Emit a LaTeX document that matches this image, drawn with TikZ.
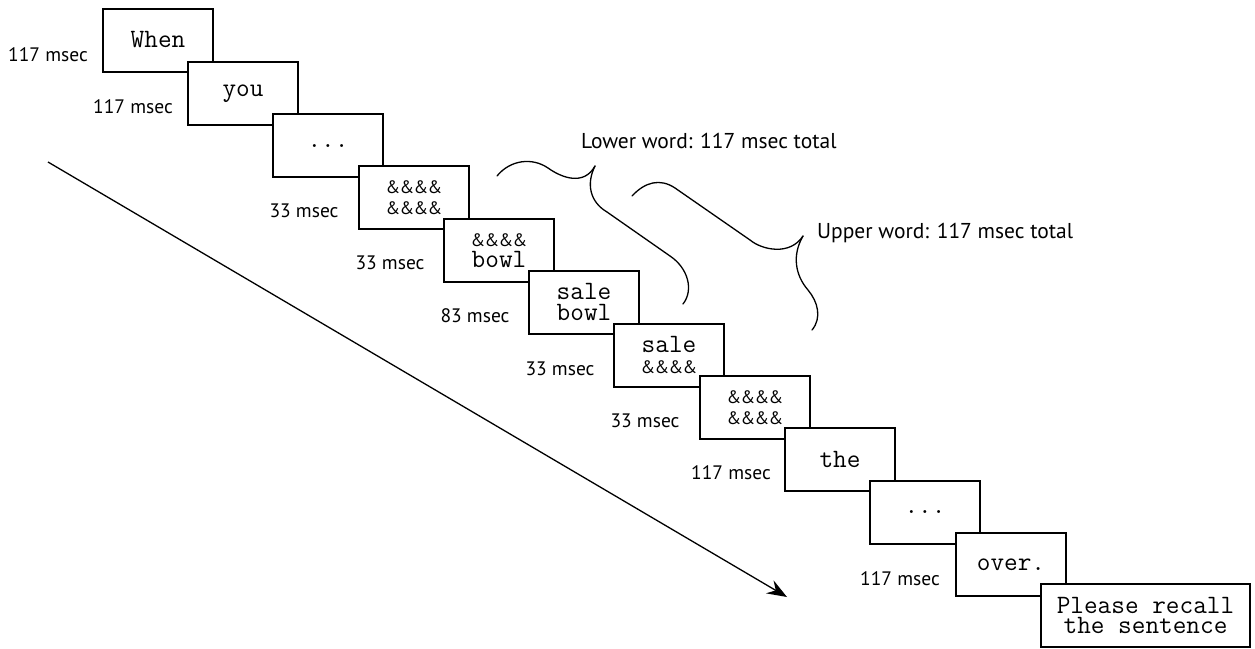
\documentclass[tikz,border=0pt]{standalone}
\usepackage{fontspec}
\setmainfont{PT Sans}
\newfontfamily\ampfont{PT Sans}
\usetikzlibrary{arrows.meta}
\newcommand\ampcell{\makebox[14pt]{\&}}
\newcommand\ampsrow{{\ampfont\fontsize{18}{20}\selectfont\ampcell\ampcell\ampcell\ampcell}}
\tikzset{
  frame/.style={draw, line width=2pt, fill=white, minimum width=110pt, minimum height=63pt,
    inner sep=0pt, align=center, font=\fontsize{26.5}{20.5}\selectfont\ttfamily},
  dur/.style={font=\fontsize{19.5}{22}\selectfont, inner sep=0pt},
  note/.style={font=\fontsize{21.5}{24}\selectfont, inner sep=0pt, anchor=base west},
  brace/.style={line width=1.3pt, line cap=round, line join=round},
  timeline/.style={line width=1.3pt, -{Stealth[length=20pt, width=15pt, inset=7pt]}}
}
\begin{document}
\begin{tikzpicture}[x=1pt, y=-1pt]
\useasboundingbox (0,0) rectangle (1255,648);
% timeline arrow
\coordinate (tstart) at (48,162);
\coordinate (tend) at (787,597);
\draw[timeline] (tstart) -- (tend);
% frames
\node[frame] (f1) at (158,40) {When};
\node[frame] (f2) at (243,93.5) {you};
\node[frame] (f3) at (328,145.5) {...};
\node[frame] (f4) at (414,197.5) {\ampsrow\\\ampsrow};
\node[frame] (f5) at (499,250.5) {\ampsrow\\bowl};
\node[frame] (f6) at (584,302) {sale\\bowl};
\node[frame] (f7) at (669,355) {sale\\\ampsrow};
\node[frame] (f8) at (755,407.5) {\ampsrow\\\ampsrow};
\node[frame] (f9) at (840,459.5) {the};
\node[frame] (f10) at (925,512) {...};
\node[frame] (f11) at (1011,564.5) {over.};
\node[frame, minimum width=209pt] (f12) at (1145.5,615.5) {Please recall\\the sentence};
% durations
\node[dur] (d1) at (48,55) {117 msec};
\node[dur] (d2) at (133,107) {117 msec};
\node[dur] (d4) at (304,211) {33 msec};
\node[dur] (d5) at (390,263) {33 msec};
\node[dur] (d6) at (475,316) {83 msec};
\node[dur] (d7) at (560,369) {33 msec};
\node[dur] (d8) at (645,421) {33 msec};
\node[dur] (d9) at (731,473) {117 msec};
\node[dur] (d11) at (900,579) {117 msec};
% braces
\draw[brace] (497,176) .. controls (510,160) and (532,157) .. (548,168)
  .. controls (562,178) and (584,186) .. (595,166);
\draw[brace] (595,166) .. controls (586,184) and (590,202) .. (607,212) -- (670,256)
  .. controls (688,268) and (694,290) .. (683,304);
\draw[brace] (632,196) .. controls (645,182) and (660,178) .. (675,188) -- (750,240)
  .. controls (762,250) and (790,256) .. (803,236);
\draw[brace] (803,236) .. controls (792,255) and (795,275) .. (808,290)
  .. controls (818,302) and (822,318) .. (812,330);
\node[note] (lower) at (581,148) {Lower word: 117 msec total};
\node[note] (upper) at (817,238) {Upper word: 117 msec total};
\end{tikzpicture}
\end{document}
